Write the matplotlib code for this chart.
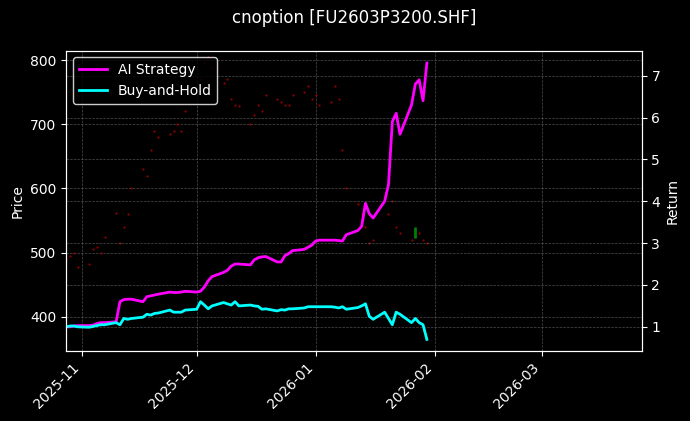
import numpy as np
import pandas as pd
import matplotlib
matplotlib.use('Agg')
import matplotlib.pyplot as plt
import matplotlib.dates as mdates

plt.style.use('dark_background')

dates = pd.bdate_range('2025-10-28', '2026-01-30')

ai = [1.0, 1.0, 1.02, 1.03,
      1.03, 1.04, 1.08, 1.1, 1.1, 1.12, 1.6, 1.65, 1.66, 1.66, 1.6, 1.72, 1.74, 1.76, 1.78, 1.83, 1.82, 1.82, 1.83, 1.85,
      1.83, 1.85, 1.95, 2.1, 2.2, 2.3, 2.35, 2.45, 2.5, 2.5, 2.48, 2.6, 2.65, 2.67, 2.68, 2.55, 2.55, 2.7, 2.75, 2.82, 2.85, 2.9, 2.95,
      3.05, 3.07, 3.07, 3.07, 3.06, 3.05, 3.2, 3.3, 3.4, 3.95, 3.7, 3.6, 4.0, 4.4, 5.9, 6.1, 5.6, 6.3, 6.8, 6.9, 6.4, 7.3]
bh = [1.0, 1.02, 1.02, 1.0,
      0.99, 1.01, 1.03, 1.05, 1.05, 1.1, 1.05, 1.2, 1.18, 1.2, 1.23, 1.3, 1.28, 1.32, 1.33, 1.4, 1.35, 1.35, 1.35, 1.4,
      1.42, 1.6, 1.52, 1.43, 1.5, 1.58, 1.55, 1.52, 1.6, 1.5, 1.52, 1.5, 1.49, 1.42, 1.43, 1.38, 1.41, 1.4, 1.43, 1.43, 1.45, 1.48, 1.48,
      1.48, 1.48, 1.48, 1.47, 1.45, 1.48, 1.42, 1.46, 1.5, 1.55, 1.25, 1.18, 1.35, 1.2, 1.05, 1.35, 1.3, 1.1, 1.2, 1.1, 1.05, 0.7]
price = [490, 495, 500, 478,
         482, 505, 508, 500, 525, 562, 515, 540, 560, 600, 630, 620, 660, 690, 680, 685, 690, 700, 690, 720,
         750, 770, 795, 805, 790, 765, 770, 740, 730, 728, 700, 715, 730, 720, 745, 740, 735, 730, 730, 745, 750, 760, 740,
         745, 730, 735, 760, 740, 660, 600, 575, 560, 540, 515, 520, 590, 560, 580, 540, 530, 520, 525, 530, 520, 515]

fig, ax = plt.subplots(figsize=(6.9, 4.21), dpi=100)
fig.subplots_adjust(left=0.096, right=0.93, top=0.88, bottom=0.167)
ax.plot(dates, price, 'o', color='#b00000', markersize=1.6, markeredgewidth=0, alpha=0.8)
ax.vlines(pd.Timestamp('2026-01-27'), 522, 540, color='green', linewidth=2)
ax.set_ylim(347, 815)
ax.set_ylabel('Price')
ax.set_xlim(pd.Timestamp('2025-10-28'), pd.Timestamp('2026-03-27'))
ax.xaxis.set_major_locator(mdates.MonthLocator())
ax.xaxis.set_major_formatter(mdates.DateFormatter('%Y-%m'))
plt.setp(ax.get_xticklabels(), rotation=45, ha='right')
ax.grid(True, color='gray', linestyle='--', linewidth=0.5, alpha=0.6)

ax2 = ax.twinx()
ax2.plot(dates, ai, color='magenta', linewidth=2, label='AI Strategy')
ax2.plot(dates, bh, color='cyan', linewidth=2, label='Buy-and-Hold')
ax2.set_ylim(0.43, 7.6)
ax2.set_ylabel('Return')
ax2.grid(True, color='gray', linestyle='--', linewidth=0.5, alpha=0.6)
ax2.legend(loc='upper left', facecolor='black', edgecolor='white')

ax.set_title('cnoption [FU2603P3200.SHF]', pad=20)
fig.savefig('out.png')
